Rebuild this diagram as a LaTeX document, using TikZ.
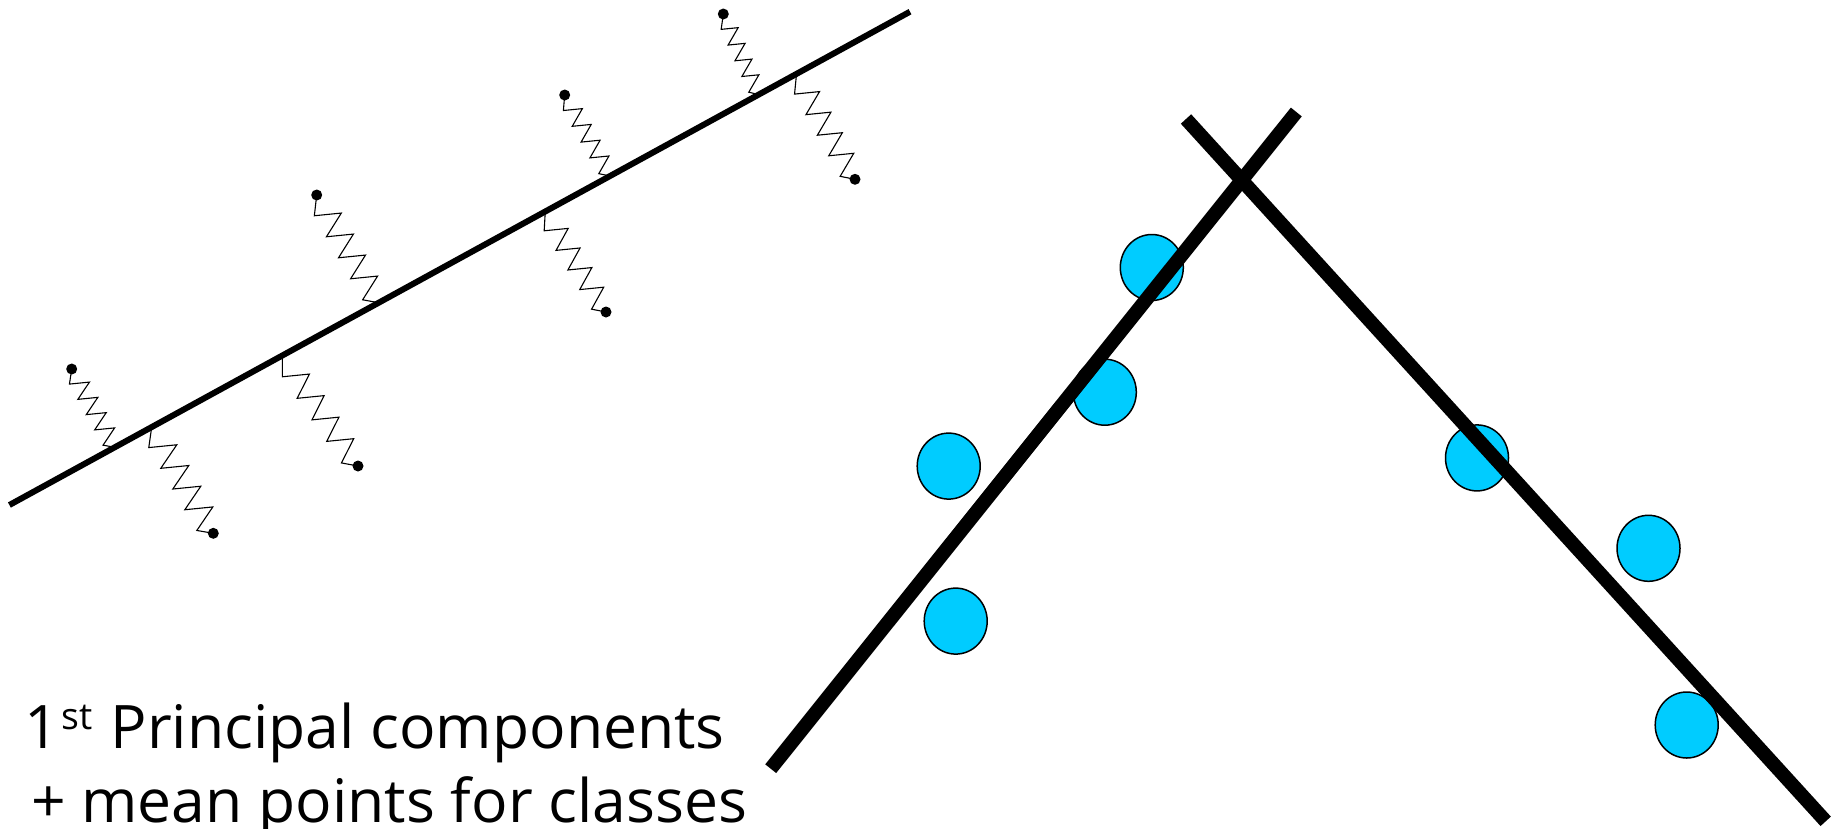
\documentclass[tikz,border=0pt]{standalone}
\usepackage{fontspec}
\newfontfamily\txtfont{Open Sans}
\usetikzlibrary{calc,shapes.geometric}
\definecolor{meancol}{RGB}{0,204,255}
\newlength\lnw
\newcommand\mysprg[3]{%
 \draw[springline] (#1)
 -- ($(#1)!0.18!(#2)+({-#3/2},{#3/20})$)
 -- ($(#1)!0.18!(#2)+({#3/2},{-#3/20})$)
 -- ($(#1)!0.375!(#2)+({-#3/2},{#3/20})$)
 -- ($(#1)!0.375!(#2)+({#3/2},{-#3/20})$)
 -- ($(#1)!0.57!(#2)+({-#3/2},{#3/20})$)
 -- ($(#1)!0.57!(#2)+({#3/2},{-#3/20})$)
 -- ($(#1)!0.765!(#2)+({-#3/2},{#3/20})$)
 -- ($(#1)!0.765!(#2)+({#3/2},{-#3/20})$)
 -- ($(#1)!0.96!(#2)+({-#3/2},{#3/20})$)
 -- (#2);}
\begin{document}
\settowidth\lnw{\txtfont\fontsize{60}{60}\selectfont + mean points for classes}%
\pgfmathsetmacro\xf{716/\lnw}%
\begin{tikzpicture}[x=1pt,y=-1pt,
  springline/.style={draw=black,line width=1.1pt,line join=miter},
  mainline/.style={draw=black,line width=6pt},
  pcline/.style={draw=black,line width=14pt},
  dotn/.style={circle,fill=black,inner sep=0pt,minimum size=11pt},
  meann/.style={ellipse,draw=black,line width=1.5pt,fill=meancol,inner sep=0pt,minimum width=63pt,minimum height=66pt},
  lbl/.style={inner sep=0pt,anchor=base west,font=\txtfont\fontsize{60}{60}\selectfont}]
\useasboundingbox (0,0) rectangle (1841,828);
\fill[white] (0,0) rectangle (1841,828);
% regression line
\coordinate (LA) at (9.4,505);
\coordinate (LB) at (910,11.7);
% attach points
\coordinate (a1u) at ($(LA)!0.117!(LB)$);
\coordinate (a1l) at ($(LA)!0.158!(LB)$);
\coordinate (a2u) at ($(LA)!0.410!(LB)$);
\coordinate (a2l) at ($(LA)!0.303!(LB)$);
\coordinate (a3u) at ($(LA)!0.667!(LB)$);
\coordinate (a3l) at ($(LA)!0.595!(LB)$);
\coordinate (a4u) at ($(LA)!0.832!(LB)$);
\coordinate (a4l) at ($(LA)!0.874!(LB)$);
% dot positions
\coordinate (p1u) at (71.7,369);
\coordinate (p1l) at (213.3,533.3);
\coordinate (p2u) at (316.7,195);
\coordinate (p2l) at (358,466);
\coordinate (p3u) at (564.7,95);
\coordinate (p3l) at (606,312);
\coordinate (p4u) at (723.3,14);
\coordinate (p4l) at (855,179.3);
% springs
\mysprg{p1u}{a1u}{20}
\mysprg{a1l}{p1l}{28}
\mysprg{p2u}{a2u}{27}
\mysprg{a2l}{p2l}{27}
\mysprg{p3u}{a3u}{19}
\mysprg{a3l}{p3l}{24}
\mysprg{p4u}{a4u}{17}
\mysprg{a4l}{p4l}{25}
\draw[mainline] (LA) -- (LB);
\foreach \n in {1u,1l,2u,2l,3u,3l,4u,4l}{\node[dotn] (d\n) at (p\n) {};}
% mean points
\node[meann] (m1) at (1151.8,267.5) {};
\node[meann] (m2) at (1104.8,392.2) {};
\node[meann] (m3) at (948.7,466.1) {};
\node[meann] (m4) at (955.7,621.1) {};
\node[meann] (m5) at (1477,457.9) {};
\node[meann] (m6) at (1648.5,548.3) {};
\node[meann] (m7) at (1686.7,725) {};
% principal component lines
\coordinate (RA1) at (770.7,768.7);
\coordinate (RA2) at (1296.3,112);
\coordinate (RB1) at (1186,119);
\coordinate (RB2) at (1825.7,821.3);
\draw[pcline] (RA1) -- (RA2);
\draw[pcline] (RB1) -- (RB2);
% text
\node[lbl] (t1) at (24,748) {\scalebox{\xf}[1]{1\hspace{3pt}\raisebox{19pt}{\fontsize{37}{37}\selectfont st}\hspace{2pt} Principal components}};
\node[lbl] (t2) at (31,822) {\scalebox{\xf}[1]{+ mean points for classes}};
\end{tikzpicture}
\end{document}
